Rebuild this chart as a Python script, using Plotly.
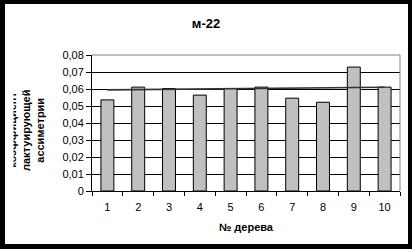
import plotly.graph_objects as go

# ---- data ----
trees = ["1", "2", "3", "4", "5", "6", "7", "8", "9", "10"]
values = [0.0536, 0.0611, 0.0603, 0.0564, 0.0603, 0.0611, 0.0546, 0.0522, 0.0729, 0.0611]
trend_x = ["1", "10"]
trend_y = [0.0595, 0.0610]
y_ticks = [0, 0.01, 0.02, 0.03, 0.04, 0.05, 0.06, 0.07, 0.08]
y_ticktext = ["0", "0,01", "0,02", "0,03", "0,04", "0,05", "0,06", "0,07", "0,08"]
title_text = "м-22"
x_title = "№ дерева"
y_title_lines = ["коэффициент", "лактуирующей", "ассиметрии"]

W, H = 412, 249
ML, MR, MT, MB = 92, 12, 55, 58
PW, PH = W - ML - MR, H - MT - MB

def px_x(p):
    return (p - ML) / PW

def px_y(p):
    return (H - MB - p) / PH

FONT = "Liberation Sans, Arial, sans-serif"

fig = go.Figure()
fig.add_trace(go.Bar(
    x=trees, y=values, width=0.42,
    marker=dict(color="#c0c0c0", line=dict(color="black", width=1)),
    showlegend=False, hoverinfo="skip",
))
fig.add_trace(go.Scatter(
    x=trend_x, y=trend_y, mode="lines",
    line=dict(color="#333333", width=1.6),
    showlegend=False, hoverinfo="skip",
))

shapes = [
    # white inner chart area over black frame
    dict(type="rect", xref="paper", yref="paper",
         x0=px_x(5), x1=px_x(408), y0=px_y(244), y1=px_y(4),
         fillcolor="white", line=dict(width=0), layer="below"),
    # gray top/right plot border
    dict(type="line", xref="paper", yref="paper", x0=0, x1=1, y0=1, y1=1,
         line=dict(color="#808080", width=1), layer="above"),
    dict(type="line", xref="paper", yref="paper", x0=1, x1=1, y0=0, y1=1,
         line=dict(color="#808080", width=1), layer="above"),
    # first (clipped) line of y title as a shape label
    dict(type="rect", xref="paper", yref="paper",
         x0=px_x(4), x1=px_x(18), y0=px_y(180), y1=px_y(80),
         line=dict(width=0), fillcolor="rgba(0,0,0,0)", layer="above",
         label=dict(text="<b>" + y_title_lines[0] + "</b>", textangle=-90,
                    textposition="middle center",
                    font=dict(family=FONT, size=11, color="black"))),
    # cover clipping it
    dict(type="rect", xref="paper", yref="paper",
         x0=px_x(5), x1=px_x(13.5), y0=px_y(180), y1=px_y(80),
         fillcolor="white", line=dict(width=0), layer="above"),
]

annotations = [
    dict(text="<b>" + y_title_lines[1] + "<br>" + y_title_lines[2] + "</b>",
         xref="paper", yref="paper", x=px_x(33), y=px_y(131),
         xanchor="center", yanchor="middle", textangle=-90, showarrow=False,
         font=dict(family=FONT, size=11, color="black")),
]

fig.update_layout(
    width=W, height=H,
    margin=dict(l=ML, r=MR, t=MT, b=MB, pad=0),
    paper_bgcolor="black", plot_bgcolor="white",
    font=dict(family=FONT, size=11, color="black"),
    title=dict(text="<b>" + title_text + "</b>", x=0.5, xref="container",
               xanchor="center", y=1 - 23 / H, yref="container", yanchor="middle",
               font=dict(family=FONT, size=13, color="black")),
    bargap=0.58,
    shapes=shapes,
    annotations=annotations,
)
fig.update_xaxes(
    type="category", range=[-0.5, 9.5],
    tickson="boundaries", ticks="outside", ticklen=4, tickcolor="black",
    showline=True, linecolor="black", linewidth=1,
    showgrid=False, ticklabelstandoff=6,
    tickfont=dict(family=FONT, size=11, color="black"),
    title=dict(text="<b>" + x_title + "</b>", standoff=11,
               font=dict(family=FONT, size=11, color="black")),
)
fig.update_yaxes(
    range=[0, 0.08], tickvals=y_ticks, ticktext=y_ticktext,
    ticks="outside", ticklen=5, tickcolor="black",
    showline=True, linecolor="black", linewidth=1,
    showgrid=True, gridcolor="black", gridwidth=1, zeroline=False,
    tickfont=dict(family=FONT, size=11, color="black"),
)

fig.write_html("out.html")
